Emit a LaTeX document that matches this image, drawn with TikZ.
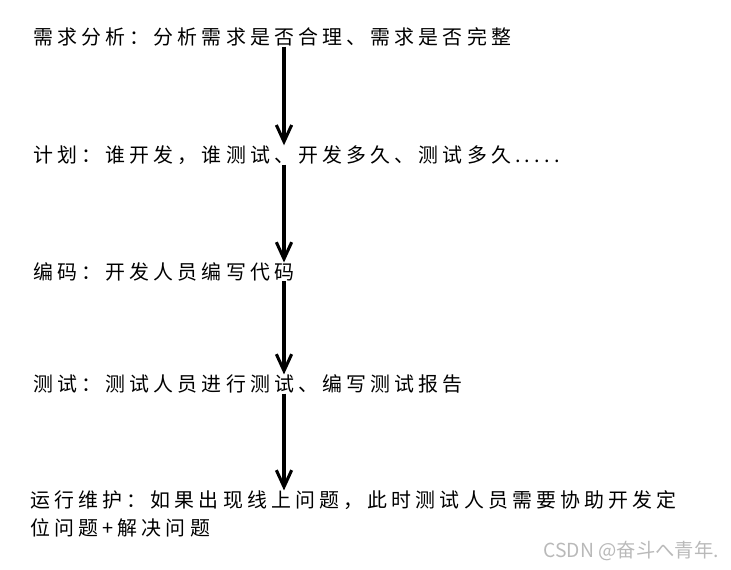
\documentclass[tikz,border=0pt]{standalone}
\usepackage{fontspec}
\usetikzlibrary{arrows.meta}
\newfontfamily\cjk[LetterSpace=21]{Noto Sans CJK SC}
\newfontfamily\wmfont{Noto Sans CJK SC}

\begin{document}
\begin{tikzpicture}[x=0.03cm, y=-0.03cm,
    stage/.style={anchor=west, inner sep=0pt, align=left, font=\cjk\fontsize{17}{24}\selectfont},
    flow/.style={-{Straight Barb[length=5mm,width=4.6mm]}, line width=2.6pt}]

    \useasboundingbox (0,0) rectangle (731,570);

    % Stages
    \node[stage] (req) at (33,37) {需求分析：分析需求是否合理、需求是否完整};
    \node[stage] (plan) at (33,155) {计划：谁开发，谁测试、开发多久、测试多久.....};
    \node[stage] (code) at (33,272) {编码：开发人员编写代码};
    \node[stage] (test) at (33,384) {测试：测试人员进行测试、编写测试报告};
    \node[stage] (maint) at (30,514) {运行维护：如果出现线上问题，此时测试人员需要协助开发定\\位问题+解决问题};

    % Arrows between stages
    \coordinate (ax) at (284,0);
    \draw[flow] (req.south -| ax) -- (plan.north -| ax);
    \draw[flow] (plan.south -| ax) -- (code.north -| ax);
    \draw[flow] (code.south -| ax) -- (test.north -| ax);
    \draw[flow] (test.south -| ax) -- (maint.north -| ax);

    % Watermark
    \node[font=\wmfont\fontsize{16.5}{18}\selectfont, text=gray!55, anchor=east] (wm) at (723,551) {CSDN @奋斗へ青年.};
\end{tikzpicture}
\end{document}
